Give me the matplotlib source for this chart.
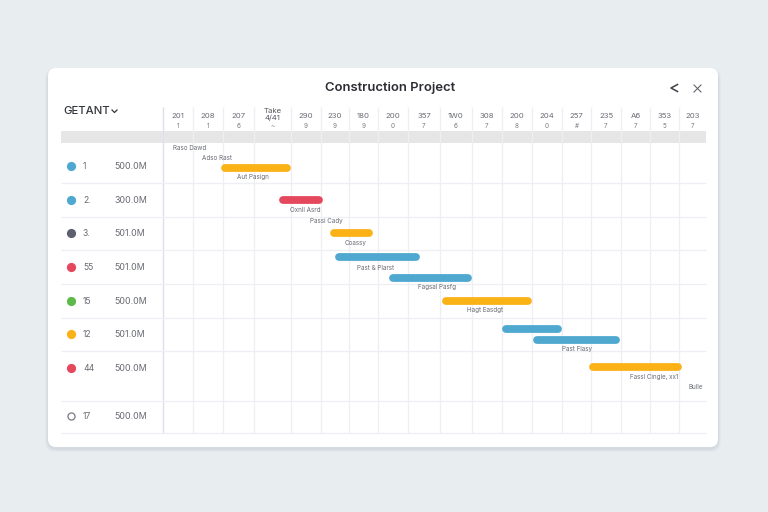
"""Construction project gantt card, drawn on a pixel-sized axes."""
import matplotlib
matplotlib.use("Agg")
import matplotlib.pyplot as plt
from matplotlib.patches import FancyBboxPatch, Rectangle

plt.rcParams["font.family"] = ["Inter", "DejaVu Sans"]

BLUE, YELLOW, RED, GREEN, SLATE = "#4ea8d0", "#fbb216", "#e5475c", "#5dba4a", "#5b5f6e"

# --- header -------------------------------------------------------------------
col_edges = [163, 193, 223, 254, 291, 321, 349, 378, 408, 440, 472, 502, 532,
             562, 591, 621, 650, 679, 706]
col_top = ["201", "208", "207", "Take\n4/41", "290", "230", "180", "200", "357",
           "1W0", "308", "200", "204", "257", "235", "A6", "353", "203"]
col_sub = ["1", "1", "6", "~", "9", "9", "9", "0", "7", "6", "7", "8", "0", "#",
           "7", "7", "5", "7"]

# --- rows ---------------------------------------------------------------------
row_lines = [183, 217, 250, 284, 318, 351, 401, 433]
row_y = [166, 200, 233, 267, 301, 334, 368, 416]
row_dot = [BLUE, BLUE, SLATE, RED, GREEN, YELLOW, RED, None]
row_id = ["1", "2.", "3.", "55", "15", "12", "44", "17"]
row_val = ["500.0M", "300.0M", "501.0M", "501.0M", "500.0M", "501.0M", "500.0M", "500.0M"]

# --- bars ---------------------------------------------------------------------
bar_start = [222, 280, 331, 336, 390, 443, 503, 534, 590]
bar_end = [291, 323, 373, 420, 472, 532, 562, 620, 682]
bar_y = [168, 199.5, 233, 257, 278, 301, 329, 340, 367]
bar_color = [YELLOW, RED, YELLOW, BLUE, BLUE, YELLOW, BLUE, BLUE, YELLOW]

task_text = ["Raso Dawd", "Adso Rast", "Aut Pasign", "Oxnll Asrd", "Passi Cady",
             "Coassy", "Past & Plarst", "Fagsal Pasfg", "Hagt Easdgt", "Past Flasy",
             "Fassl Cingle, xx1", "Bulle"]
task_x = [189.5, 217, 253, 305, 326.5, 356, 376, 436.5, 485, 577, 654.5, 695.5]
task_y = [148.5, 158.5, 177, 209.5, 221, 242.5, 267.5, 287, 310, 348.5, 377, 387]

fig = plt.figure(figsize=(7.68, 5.12), dpi=100, facecolor="#e8edf0")
ax = fig.add_axes([0, 0, 1, 1])
ax.set_xlim(0, 768)
ax.set_ylim(512, 0)
ax.axis("off")

# card with a soft shadow
for grow, alpha in [(6, 0.05), (4, 0.07), (2, 0.10)]:
    ax.add_patch(FancyBboxPatch((48 - grow / 2, 71 - grow / 2), 670 + grow, 378 + grow,
                                boxstyle="round,pad=0,rounding_size=10",
                                fc="#8d9aa6", ec="none", alpha=alpha, zorder=1))
ax.add_patch(FancyBboxPatch((48, 68), 670, 379, boxstyle="round,pad=0,rounding_size=8",
                            fc="white", ec="none", zorder=2))

# grid
ax.add_patch(Rectangle((61, 131), 645, 12, fc="#e6e6e7", ec="none", zorder=3))
ax.vlines(col_edges[:-1], 107, 433, color="#eeeef4", lw=0.9, zorder=4)
ax.vlines(col_edges[0], 107, 433, color="#dfe0ea", lw=0.9, zorder=4)
ax.hlines(row_lines, 61, 706, color="#eeeff4", lw=0.9, zorder=4)

# header text
ax.text(390.5, 88, "Construction Project", ha="center", va="center", fontsize=9.4,
        fontweight="semibold", color="#2c2e34", zorder=6)
ax.text(63, 111, "GETANT", ha="left", va="center", fontsize=8.2, fontweight="medium",
        color="#33353b", zorder=6)
ax.plot([112, 114.5, 117], [110, 112.5, 110], color="#33353b", lw=0.9, zorder=6)
ax.plot([677.5, 671, 677.5], [84.5, 88, 91.5], color="#3d4047", lw=1.1, zorder=6)
ax.plot([694, 701], [85, 92], color="#62656c", lw=0.8, zorder=6)
ax.plot([694, 701], [92, 85], color="#62656c", lw=0.8, zorder=6)

for left, right, top, sub in zip(col_edges[:-1], col_edges[1:], col_top, col_sub):
    mid = (left + right) / 2
    if "\n" in top:
        ax.text(mid, 114.5, top, ha="center", va="center", fontsize=5.6, linespacing=1.05,
                color="#55575f", zorder=6)
    else:
        ax.text(mid, 116, top, ha="center", va="center", fontsize=5.6, color="#6a6c74", zorder=6)
    ax.text(mid, 126, sub, ha="center", va="center", fontsize=4.6, color="#7a7c84", zorder=6)

# row labels
for y, dot, num, val in zip(row_y, row_dot, row_id, row_val):
    if dot is None:
        ax.scatter([70.5], [y], s=26, facecolor="white", edgecolor="#777b83", lw=0.9, zorder=6)
    else:
        ax.scatter([70.5], [y], s=44, color=dot, lw=0, zorder=6)
    ax.text(83, y + 0.5, num, ha="left", va="center", fontsize=6.2, color="#696b73", zorder=6)
    ax.text(114, y + 0.5, val, ha="left", va="center", fontsize=6.4, color="#696b73", zorder=6)

# gantt bars, round caps add half the line width at each end
for start, end, y, color in zip(bar_start, bar_end, bar_y, bar_color):
    ax.plot([start + 3, end - 4], [y, y], color=color, lw=5.6, solid_capstyle="round", zorder=5)

for text, x, y in zip(task_text, task_x, task_y):
    ax.text(x, y, text, ha="center", va="center", fontsize=4.5, color="#6a6c74", zorder=6)

fig.savefig("out.png", dpi=100, facecolor=fig.get_facecolor())
